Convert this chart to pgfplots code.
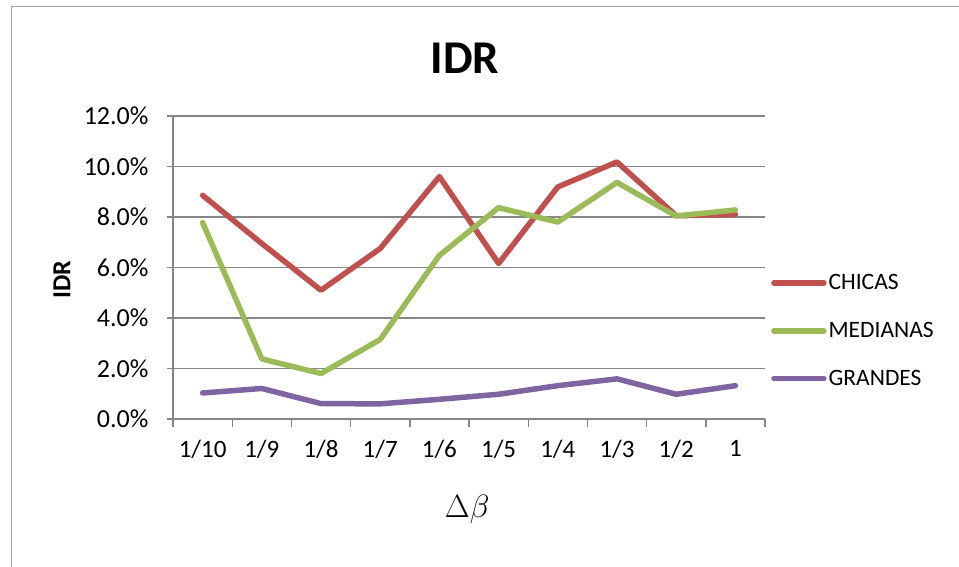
\documentclass[border=0pt]{standalone}
\usepackage{pgfplots}
\pgfplotsset{compat=1.18}
\usepackage{fontspec}
\setmainfont{Carlito}
\definecolor{cred}{HTML}{C0504D}
\definecolor{cgreen}{HTML}{9BBB59}
\definecolor{cpurple}{HTML}{8064A2}
\definecolor{cgrid}{HTML}{868686}
\begin{document}
\begin{tikzpicture}
\path[use as bounding box] (0,0) rectangle (959bp,-567bp);
\draw[color=cgrid!80, line width=1bp] (11bp,-567bp) -- (11bp,-6.5bp) -- (959bp,-6.5bp);
\begin{axis}[
  at={(173bp,-419bp)}, anchor=south west,
  scale only axis, width=592bp, height=303bp,
  xmin=0, xmax=10, ymin=0, ymax=12,
  xtick={0.5,1.5,...,9.5},
  xticklabels={1/10,1/9,1/8,1/7,1/6,1/5,1/4,1/3,1/2,1},
  minor xtick={0,1,...,10},
  ytick={0,2,...,12},
  yticklabel={\pgfmathprintnumber[fixed,fixed zerofill,precision=1]{\tick}\%},
  /pgf/number format/assume math mode=true,
  major x tick style={draw=none},
  tick align=outside,
  minor tick length=8bp, major tick length=6bp,
  every tick/.style={cgrid, line width=1.4bp},
  axis x line*=bottom, axis y line*=left,
  axis line style={cgrid, line width=1.6bp},
  ymajorgrids, grid style={cgrid, line width=1.6bp},
  tick label style={font=\fontsize{25bp}{30bp}\selectfont},
  xticklabel style={yshift=-12bp},
  yticklabel style={xshift=-15bp, font=\fontsize{26bp}{30bp}\selectfont},
  title={\textbf{IDR}},
  title style={font=\fontsize{47bp}{54bp}\selectfont, at={(axis description cs:0.493,1.17)}, anchor=center},
  ylabel={\textbf{IDR}},
  ylabel style={font=\fontsize{26bp}{30bp}\selectfont, at={(axis description cs:-0.1875,0.459)}, anchor=center, rotate=0},
  xlabel={\scalebox{1.3}{$\Delta\beta$}},
  xlabel style={font=\fontsize{24bp}{28bp}\selectfont, at={(axis description cs:0.497,-0.30)}, anchor=center},
  legend style={at={(1.005,0.49)}, anchor=north west, draw=none, fill=none,
    font=\fontsize{23.5bp}{28bp}\selectfont, row sep=27bp},
  legend cell align=left,
  legend image code/.code={\draw[#1, line width=5.5bp, line cap=round] (0bp,0bp) -- (50bp,0bp);},
  every axis plot/.append style={line width=5.5bp, line join=round, line cap=round},
]
\addplot[cred] coordinates {(0.5,8.86) (1.5,6.95) (2.5,5.10) (3.5,6.75) (4.5,9.60) (5.5,6.16) (6.5,9.19) (7.5,10.18) (8.5,8.05) (9.5,8.10)};
\addlegendentry{CHICAS}
\addplot[cgreen] coordinates {(0.5,7.78) (1.5,2.38) (2.5,1.80) (3.5,3.15) (4.5,6.48) (5.5,8.37) (6.5,7.80) (7.5,9.37) (8.5,8.04) (9.5,8.28)};
\addlegendentry{MEDIANAS}
\addplot[cpurple] coordinates {(0.5,1.03) (1.5,1.21) (2.5,0.61) (3.5,0.60) (4.5,0.78) (5.5,0.98) (6.5,1.32) (7.5,1.59) (8.5,0.98) (9.5,1.32)};
\addlegendentry{GRANDES}
\end{axis}
\end{tikzpicture}
\end{document}
